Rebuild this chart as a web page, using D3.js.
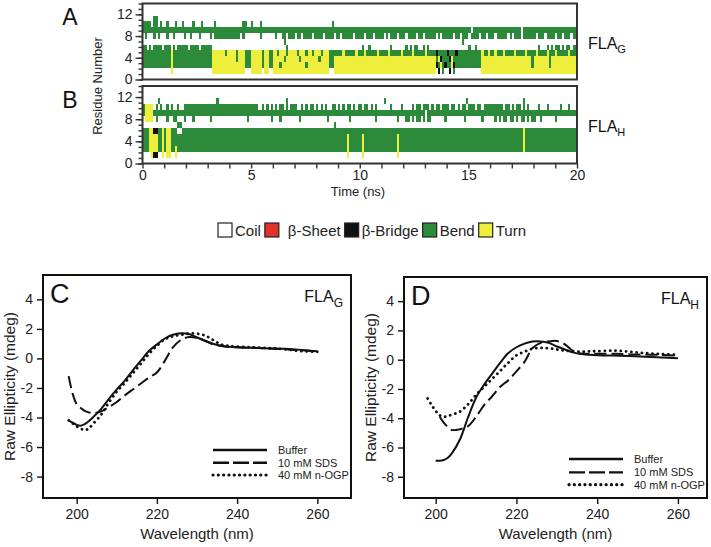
<!DOCTYPE html>
<html><head><meta charset="utf-8">
<script src="https://cdn.jsdelivr.net/npm/d3@7"></script>
<style>body{margin:0;background:#fff}svg{display:block}</style>
</head><body><svg id="c" width="711" height="547"></svg>
<script>
// ---------------- DATA ----------------
const timeTicks = [0, 5, 10, 15, 20];
const residueTicks = [0, 4, 8, 12];
const binSize = 0.1; // ns per character
const ssNames = ["Coil", "\u03b2-Sheet", "\u03b2-Bridge", "Bend", "Turn"];
const ssCodes = [".", "E", "B", "S", "T"];
const ssColors = ["#ffffff", "#e2302b", "#111111", "#2b8b3b", "#eeee3c"];

// secondary structure per residue (top row = residue 13), 200 bins of 0.1 ns
const flaG = [
".................... .................... .................... .................... .................... .................... .................... .................... .................... ....................",
".................... .................... .................... .................... .................... .................... .................... .................... .................... ....................",
".....SS............. .................... .................... .................... .................... .................... .................... .................... .................... ....................",
"SSSS.SS.S..S...S..S. ...S...S.....S...... ......SS..S...S..... .................... .......S............ .................... .................... .................... .................... ....................",
"SSSSSSSSSSSSSSSSSSSS SSSSSSSSSSSSSSSSSSSS SSSSSSSSSSSSSSSSSSSS SSSSSSSSSSSSSSSSSSSS SSSSSSSSSSSSSSSSSSSS SSSSSSSSSSSSSSSSSSSS SSSSSSSSSSSSSSSSSSSS SSSSSSSSSSS.SSSSSSSS SSSSSSSSSSSSSS.SSSSS SSSSSSSSSSSSSSSSSSSS",
".S...S.S...S..S....S ..S...S....S.SSSSSSS SSSSS.S.......S..... .S..SS.SSS.SS.SSSS.S SSS.SSSS.SS.SSSSS.SS SS.SSS.SSSS.S.SSS.SS S.SSSS.SS.SSSSS.S.SS SSS.SS.SSS.SSSS.SS.S SS.SSSSS.S.SSS.SSSSS S.SSS.SSSS.SS.SSS.SS",
".................... .................... .................... .....S.............. .................... .................... .................... .......S............ .................... ....................",
"SS.S.SSSS.SSS.S.SSSS S.SSSS.SSSSS........ .................... ......S............. .................... .S..S.........S..... .S.S.SS..S.S........ ..........S..S...... .................... ..S...S.S.SS.S.SS.SS",
"SSSSSSSSSSSSSTSSSSSS SSSSSSSSSSSSTTTTTTST TTTSTTTSSSTTTTTSTTSS TTSTTTSTTTTSTTTSTTST TTSTTTSSSSSSTSSSSSTS SSTSSSSSTSSSSTSSSSST SSSSTSSSSSTSSSSBSSSS BSSSBSSSSSSSSSSSTSST SSTSSSTSSSSTSSSSTSSS STSSSSTSSSTSSSSSTSSS",
"SSSSSSSSSSSSSTSSSSSS SSSSSSSSSSSSTTTTTTTT TTTSTTTSSSTTTTTSTTSS TTTTTSTTTTTTSTTTTTTT TSTTTTSSTTTTTTTTTTTT TTTTTTTTTTTTTTTTTTTT TTTTTTTTTTTTTTTSTBSS SBTSSSSSSSSSSSSSTTTT TTTTTTTTTTTTTTTTTTTS TTTTTTTSTTTTTTTTTTTT",
"SSSSSSSSSSSSSTSSSSSS SSSSSSSSSSSSTTTTTTTT TTTTTTTSSSTTTTTSTTSS TTTSTTTTTTTTTTTSTTTT TTTTTTSSTTTTTTTTTTTT TTTTTTTTTTTTTTTTTTTT TTTTTTTTTTTTTTTBSTSB SSTBSSSSSSSSSSSSTTTT TTTTTTTTTTTTTTTTTTTS TTTTTTTSTTTTTTTTTTTT",
".............T...... ............TTTTTTTT TTTTTTT...TTTTT.TT.. TTTTTTTTTTTTTTTTTTTT TTTTTT..TTTTTTTTTTTT TTTTTTTTTTTTTTTTTTTT TTTTTTTTTTTTTTT.B.S. .B.S............TTTT TTTTTTTTTTTTTTTTTTTT TTTTTTTTTTTTTTTTTTTT",
".................... .................... .................... .................... .................... .................... .................... .................... .................... ...................."
];
const flaH = [
".................... .................... .................... .................... .................... .................... .................... .................... .................... ....................",
".................... .................... .................... .................... .................... .................... .................... .................... .................... ....................",
".......S............ ..............S..... .................... ......S............. .................... ...........S........ .................... .........S.......... ...............S.... ....................",
"STTTT.S.S..S.S..S..S SSSSSSSSSSSSSSSSSSSS SSSSSSSSSSSSS..S.S.S .S.SS.S.SSS..S.S.SS. S.S.S..SS.S.S.SS.S.S S.SS.S.S......S....S ....S.SS.SSS.S.SS.SS S.SS.S.SS.SSS.SS.SSS SSSSSS.SS.S.SS.S.S.. ..S...S.....S...S...",
"STTTTSSSSSSSSSSSSSSS SSSSSSSSSSSSSSSSSSSS SSSSSSSSSSSSSSSSSSSS SSSSSSSSSSSSSSSSSSSS SSSSSSSSSSSSSSSSSSSS SSSSSSSSSSSSSSSSSSSS SSSSSSSSSS.SSSSSSSSS SSSSSSSSSSSSSSSSSSSS SSSSSSSSSSSSSSSSSSSS SSSSSSSSSSSSSSSSSSSS",
".TTTT.S....S..SS...S ...S.......S........ ........S..........S ...S........S....... .....S.........S.... .......S.........S.. .SS.S.SS.S.SS......S ........S.......S... ..S.S.SS.SS.S.SS.S.S S..S......S.........",
"................SS.. .................... .................... .................... ........S........... .................... .................... .................... .................... ....................",
"SSSTTBBSSTSTTSSS..SS SSSSSSSSSSSSSSSSSSSS SSSSSSSSSSSSSSSSSSSS SSSSSSSSSSSSSSSSSSSS SSSSSSSSSSSSSSSSSSSS SSSSSSSSSSSSSSSSSSSS SSSSSSSSSSSSSSSSSSSS SSSSSSSSSSSSSSSSSSSS SSSSSSSSSSSSSSSTSSSS SSSSSSSSSSSSSSSSSSSS",
"SSSTTTTSSTSTTSSSSSSS SSSSSSSSSSSSSSSSSSSS SSSSSSSSSSSSSSSSSSSS SSSSSSSSSSSSSSSSSSSS SSSSSSSSSSSSSSTSSSSS STSSSSSSSSSSSSSSSTSS SSSSSSSSSSSSSSSSSSSS SSSSSSSSSSSSSSSSSSSS SSSSSSSSSSSSSSSTSSSS SSSSSSSSSSSSSSSSSSSS",
"SSSTTTTSSTSTTSSSSSSS SSSSSSSSSSSSSSSSSSSS SSSSSSSSSSSSSSSSSSSS SSSSSSSSSSSSSSSSSSSS SSSSSSSSSSSSSSTSSSSS STSSSSSSSSSSSSSSSTSS SSSSSSSSSSSSSSSSSSSS SSSSSSSSSSSSSSSSSSSS SSSSSSSSSSSSSSSTSSSS SSSSSSSSSSSSSSSSSSSS",
"SSSTTTTSSTSTTSSTSSSS SSSSSSSSSSSSSSSSSSSS SSSSSSSSSSSSSSSSSSSS SSSSSSSSSSSSSSSSSSSS SSSSSSSSSSSSSSTSSSSS STSSSSSSSSSSSSSSSTSS SSSSSSSSSSSSSSSSSSSS SSSSSSSSSSSSSSSSSSSS SSSSSSSSSSSSSSSTSSSS SSSSSSSSSSSSSSSSSSSS",
"....TBB..T.TT..T.... .................... .................... .................... ..............T..... .T...............T.. .................... .................... .................... ....................",
".................... .................... .................... .................... .................... .................... .................... .................... .................... ...................."
];

// CD spectra
const wavelength = [198,199,200,201,202,203,204,206,208,210,212,214,216,218,220,222,224,226,228,230,232,234,236,238,240,244,248,252,256,260];
const seriesNames = ["Buffer", "10 mM SDS", "40 mM n-OGP"];
const gBuffer = [-4.2,-4.35,-4.5,-4.55,-4.45,-4.25,-4.0,-3.45,-2.75,-2.1,-1.5,-0.8,-0.15,0.5,0.95,1.35,1.6,1.7,1.65,1.42,1.2,1.0,0.86,0.79,0.75,0.72,0.68,0.65,0.58,0.48];
const gSDS    = [-1.2,-2.4,-3.1,-3.35,-3.55,-3.65,-3.7,-3.6,-3.3,-2.95,-2.5,-2.1,-1.7,-1.3,-0.95,-0.15,0.75,1.25,1.45,1.38,1.2,0.95,0.85,0.78,0.75,0.72,0.68,0.62,0.55,0.48];
const gOGP    = [-4.2,-4.4,-4.6,-4.75,-4.85,-4.75,-4.45,-3.85,-3.0,-2.25,-1.65,-1.0,-0.35,0.3,0.85,1.3,1.5,1.6,1.68,1.68,1.55,1.25,0.95,0.85,0.8,0.75,0.7,0.62,0.5,0.45];
const hBuffer = [null,null,-6.9,-6.9,-6.85,-6.7,-6.4,-5.45,-3.95,-2.6,-1.7,-0.95,-0.2,0.45,0.85,1.1,1.25,1.25,1.15,0.9,0.7,0.5,0.38,0.33,0.3,0.28,0.25,0.2,0.15,0.1];
const hSDS    = [null,null,null,-3.9,-4.3,-4.6,-4.8,-4.75,-4.55,-3.9,-3.1,-2.5,-1.85,-1.4,-0.8,-0.15,0.8,1.15,1.25,1.28,1.05,0.6,0.42,0.4,0.4,0.4,0.38,0.35,0.32,0.27];
const hOGP    = [-2.65,-3.1,-3.5,-3.8,-3.9,-3.85,-3.75,-3.55,-3.05,-2.4,-1.85,-1.3,-0.75,-0.2,0.3,0.55,0.75,0.8,0.78,0.7,0.62,0.58,0.55,0.57,0.58,0.62,0.55,0.45,0.38,0.33];
const cdXTicks = [200, 220, 240, 260];
const cdYTicks = [-8, -6, -4, -2, 0, 2, 4];

// ---------------- DRAW ----------------
const FONT = '"Liberation Sans", Arial, Helvetica, sans-serif';
const svg = d3.select("#c").attr("font-family", FONT);
const color = d3.scaleOrdinal().domain(ssCodes).range(ssColors);

const xT = d3.scaleLinear().domain([0, 20]).range([142.5, 577]);

function timeline(rows, top, bottom, letter, sub, letterY, showX) {
  const g = svg.append("g");
  const y = d3.scaleLinear().domain([0, 14]).range([bottom, top]);
  const n = rows.length;
  const band = d3.scaleBand().domain(d3.range(1, n + 1)).range([y(0), y(13.9)]);
  const cells = [];
  rows.forEach((str, i) => {
    const residue = n - i;
    const s = str.replace(/ /g, "");
    let j = 0;
    while (j < s.length) {
      let k = j;
      while (k < s.length && s[k] === s[j]) k++;
      if (s[j] !== ".") cells.push({residue, code: s[j], t0: j * binSize, t1: k * binSize});
      j = k;
    }
  });
  g.append("g").attr("shape-rendering", "crispEdges").selectAll("rect").data(cells).join("rect")
    .attr("x", d => xT(d.t0)).attr("width", d => xT(d.t1) - xT(d.t0))
    .attr("y", d => band(d.residue)).attr("height", band.bandwidth())
    .attr("fill", d => color(d.code));
  const minor = g.append("g").attr("transform", `translate(${xT(0)},0)`)
    .call(d3.axisLeft(y).tickValues(d3.range(0, 15)).tickSize(4).tickFormat(""));
  minor.select(".domain").remove();
  const major = g.append("g").attr("transform", `translate(${xT(0)},0)`)
    .call(d3.axisLeft(y).tickValues(residueTicks).tickSize(7).tickPadding(3).tickFormat(d3.format("d")));
  major.select(".domain").remove();
  g.selectAll(".tick line").attr("stroke", "#333").attr("stroke-width", 1.4);
  major.selectAll("text").attr("font-size", 14).attr("font-family", FONT).attr("fill", "#222");
  if (showX) {
    const ax = g.append("g").attr("transform", `translate(0,${y(0)})`)
      .call(d3.axisBottom(xT).tickValues(d3.range(0, 21)).tickSize(5).tickPadding(2)
        .tickFormat(d => timeTicks.includes(d) ? d : ""));
    ax.select(".domain").remove();
    ax.selectAll(".tick line").attr("stroke", "#333").attr("stroke-width", 1.4);
    ax.selectAll("text").attr("font-size", 14).attr("font-family", FONT).attr("fill", "#222");
  }
  g.append("rect").attr("x", xT(0)).attr("y", y(14)).attr("width", xT(20) - xT(0)).attr("height", y(0) - y(14))
    .attr("fill", "none").attr("stroke", "#333").attr("stroke-width", 2);
  svg.append("text").attr("x", 70).attr("y", letterY).attr("text-anchor", "middle")
    .attr("font-size", 23).attr("fill", "#111").text(letter);
  const t = svg.append("text").attr("x", 588).attr("y", (top + bottom) / 2 + 7).attr("font-size", 16).attr("fill", "#111");
  t.append("tspan").text("FLA");
  t.append("tspan").attr("font-size", 11).attr("dy", 4).text(sub);
}

timeline(flaG, 3.5, 79.5, "A", "G", 25, false);
timeline(flaH, 86, 163.5, "B", "H", 108, true);

svg.append("text").attr("transform", "translate(102,86) rotate(-90)").attr("text-anchor", "middle")
  .attr("font-size", 13).attr("fill", "#222").text("Residue Number");
svg.append("text").attr("x", 358).attr("y", 196).attr("text-anchor", "middle")
  .attr("font-size", 13).attr("fill", "#222").text("Time (ns)");

// legend for secondary structure
{
  const lg = svg.append("g");
  let x = 218;
  ssNames.forEach((name, i) => {
    lg.append("rect").attr("x", x).attr("y", 223).attr("width", 14).attr("height", 14)
      .attr("fill", ssColors[i]).attr("stroke", "#222").attr("stroke-width", 1.2);
    const tx = lg.append("text").attr("x", x + 17 + (i === 1 ? 6 : 0)).attr("y", 236)
      .attr("font-size", 15).attr("fill", "#222").text(name);
    x = x + 17 + (i === 1 ? 6 : 0) + tx.node().getComputedTextLength() + 4;
  });
}

// CD panels
function cdPanel(o) {
  const g = svg.append("g");
  const x = d3.scaleLinear().domain(o.xDomain).range([o.left, o.right]);
  const y = d3.scaleLinear().domain([-9.45, 5.65]).range([o.bottom, o.top]);
  const styles = [
    {dash: null, w: 2, cap: "butt"},
    {dash: "12,5", w: 2, cap: "butt"},
    {dash: "0.1,5.2", w: 2.8, cap: "round"}
  ];
  o.series.forEach((vals, i) => {
    const pts = wavelength.map((w, k) => [w, vals[k]]);
    const line = d3.line().defined(d => d[1] != null).x(d => x(d[0])).y(d => y(d[1]))
      .curve(d3.curveCatmullRom.alpha(0.5));
    g.append("path").attr("d", line(pts)).attr("fill", "none").attr("stroke", "#111")
      .attr("stroke-width", styles[i].w).attr("stroke-dasharray", styles[i].dash)
      .attr("stroke-linecap", styles[i].cap);
  });
  const ay = g.append("g").attr("transform", `translate(${o.left},0)`)
    .call(d3.axisLeft(y).tickValues(cdYTicks).tickSize(6).tickPadding(4).tickFormat(d3.format("d")));
  const ax = g.append("g").attr("transform", `translate(0,${o.bottom})`)
    .call(d3.axisBottom(x).tickValues(cdXTicks).tickSize(6).tickPadding(5));
  [ax, ay].forEach(a => {
    a.select(".domain").remove();
    a.selectAll(".tick line").attr("stroke", "#111").attr("stroke-width", 1.4);
    a.selectAll("text").attr("font-size", 14).attr("font-family", FONT).attr("fill", "#222").text(function(){ return this.textContent.replace("\u2212", "-"); });
  });
  g.append("rect").attr("x", o.left).attr("y", o.top).attr("width", o.right - o.left).attr("height", o.bottom - o.top)
    .attr("fill", "none").attr("stroke", "#111").attr("stroke-width", 2);
  seriesNames.forEach((name, i) => {
    const ly = o.bottom - o.legendOff[i];
    g.append("line").attr("x1", o.right - 138).attr("x2", o.right - 84).attr("y1", ly).attr("y2", ly)
      .attr("stroke", "#111").attr("stroke-width", styles[i].w + 0.4)
      .attr("stroke-dasharray", i === 1 ? "16,4" : styles[i].dash).attr("stroke-linecap", styles[i].cap);
    g.append("text").attr("x", o.right - 73).attr("y", ly + 4).attr("font-size", 11).attr("fill", "#222").text(name);
  });
  g.append("text").attr("x", o.left + 7).attr("y", o.top + 28).attr("font-size", 27).attr("fill", "#111").text(o.letter);
  const t = g.append("text").attr("x", o.right - 8).attr("y", o.top + 27).attr("text-anchor", "end")
    .attr("font-size", 16).attr("fill", "#111");
  t.append("tspan").text("FLA");
  t.append("tspan").attr("font-size", 12).attr("dy", 5).text(o.sub);
  g.append("text").attr("x", (o.left + o.right) / 2).attr("y", 539).attr("text-anchor", "middle")
    .attr("font-size", 15).attr("fill", "#222").text("Wavelength (nm)");
  g.append("text").attr("transform", `translate(${o.left - 28},${(o.top + o.bottom) / 2}) rotate(-90)`)
    .attr("text-anchor", "middle").attr("font-size", 15.5).attr("fill", "#222").text("Raw Ellipticity (mdeg)");
}

cdPanel({left: 43, right: 351, top: 275, bottom: 498, xDomain: [191.6, 268.4],
  series: [gBuffer, gSDS, gOGP], letter: "C", sub: "G", legendOff: [48, 35.3, 23]});
cdPanel({left: 404, right: 707, top: 277, bottom: 498, xDomain: [192.15, 267.2],
  series: [hBuffer, hSDS, hOGP], letter: "D", sub: "H", legendOff: [39, 25.6, 13.3]});
</script></body></html>
